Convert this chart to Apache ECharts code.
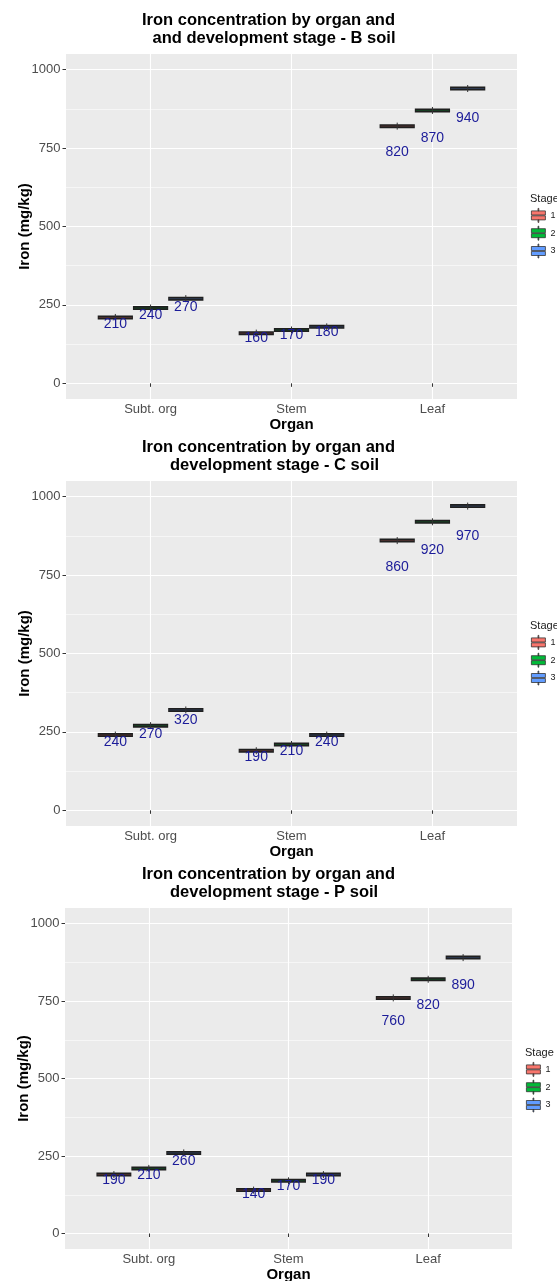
<!DOCTYPE html>
<html><head><meta charset="utf-8">
<script src="https://cdn.jsdelivr.net/npm/echarts@6/dist/echarts.min.js"></script>
<style>html,body{margin:0;padding:0;background:#fff}#chart{width:557px;height:1281px}</style>
</head><body><div id="chart"></div>
<script>
// ---- data ----
const organs = ['Subt. org', 'Stem', 'Leaf'];
const stages = ['1', '2', '3'];
const stageColors = ['#F8766D', '#00BA38', '#619CFF'];
const yTicks = [0, 250, 500, 750, 1000];
const yMinorTicks = [125, 375, 625, 875];
const xTicks = [1, 2, 3];
const titleLine1 = ['Iron concentration by organ and', 'Iron concentration by organ and', 'Iron concentration by organ and'];
const titleLine2 = ['and development stage - B soil', 'development stage - C soil', 'development stage - P soil'];
// values per stage (rows) and organ (columns: Subt. org, Stem, Leaf)
const soilB = [[210, 160, 820], [240, 170, 870], [270, 180, 940]];
const soilC = [[240, 190, 860], [270, 210, 920], [320, 240, 970]];
const soilP = [[190, 140, 760], [210, 170, 820], [260, 190, 890]];
const soils = [soilB, soilC, soilP];

// ---- layout ----
const FONT = 'Liberation Sans, Arial, Helvetica, sans-serif';
const grids = [
  {left: 66, top: 54, width: 451, height: 345},
  {left: 66, top: 481, width: 451, height: 345},
  {left: 65, top: 908, width: 447, height: 341}
];
const line2Left = [152.5, 170, 170];
const legendLeft = [531, 531, 526];
const stageTitleLeft = [530, 530, 525];
const DODGE = 0.25, HALF = 0.125, LABEL_FACTOR = 0.9;

const option = {
  animation: false,
  backgroundColor: '#fff',
  textStyle: {fontFamily: FONT},
  title: [], legend: [], grid: [], xAxis: [], yAxis: [], series: []
};

grids.forEach((g, p) => {
  option.grid.push(Object.assign({show: true, backgroundColor: '#EBEBEB', borderWidth: 0,
    containLabel: false, outerBoundsMode: 'none'}, g));
  const tStyle = {fontSize: 16.5, fontWeight: 'bold', color: '#000', fontFamily: FONT, lineHeight: 18};
  option.title.push({text: titleLine1[p], left: 142, top: g.top - 33.3 - 9, padding: 0, textStyle: tStyle});
  option.title.push({text: titleLine2[p], left: line2Left[p], top: g.top - 15.2 - 9, padding: 0, textStyle: tStyle});
  option.title.push({text: 'Stage', left: stageTitleLeft[p], top: g.top + 145 - 6, padding: 0,
    textStyle: {fontSize: 11, fontWeight: 'normal', color: '#1a1a1a', fontFamily: FONT, lineHeight: 12}});

  option.legend.push({
    data: stages, orient: 'vertical', left: legendLeft[p], top: g.top + 161 - 7, padding: 0,
    itemWidth: 14, itemHeight: 14, itemGap: 3, selectedMode: false,
    icon: 'path://M0,2.5H14V6.6H0Z M0,7.4H14V11.5H0Z M6.6,0H7.4V2.5H6.6Z M6.6,11.5H7.4V14H6.6Z',
    itemStyle: {borderColor: '#333', borderWidth: 0.8},
    textStyle: {fontSize: 9, color: '#1a1a1a', fontFamily: FONT}
  });

  option.xAxis.push({
    gridIndex: p, type: 'value', min: 0.4, max: 3.6,
    axisLine: {show: false},
    axisTick: {show: true, customValues: xTicks, length: 3.5, lineStyle: {color: '#333', width: 1}},
    axisLabel: {customValues: xTicks, formatter: v => organs[Math.round(v) - 1], margin: 4,
      fontSize: 13, color: '#4D4D4D', fontFamily: FONT},
    splitLine: {show: true, lineStyle: {color: '#fff', width: 1.1}},
    name: 'Organ', nameLocation: 'middle', nameGap: 18, nameMoveOverlap: false,
    nameTextStyle: {fontSize: 15, fontWeight: 'bold', color: '#000', lineHeight: 15, fontFamily: FONT}
  });
  option.yAxis.push({
    gridIndex: p, type: 'value', min: -50, max: 1050,
    axisLine: {show: false},
    axisTick: {show: true, customValues: yTicks, length: 3.5, lineStyle: {color: '#333', width: 1}},
    axisLabel: {customValues: yTicks, formatter: v => String(v), margin: 5.5, fontSize: 13,
      color: '#4D4D4D', fontFamily: FONT},
    splitLine: {show: true, lineStyle: {color: '#fff', width: 1.1}},
    name: 'Iron (mg/kg)', nameLocation: 'middle', nameGap: 34, nameRotate: 90, nameMoveOverlap: false,
    nameTextStyle: {fontSize: 15, fontWeight: 'bold', color: '#000', lineHeight: 15, fontFamily: FONT}
  });
  option.yAxis.push({
    gridIndex: p, type: 'value', min: -50, max: 1050, position: 'right',
    axisLine: {show: false},
    axisTick: {show: false, customValues: yMinorTicks},
    axisLabel: {show: false, customValues: yMinorTicks},
    splitLine: {show: true, lineStyle: {color: '#fff', width: 0.55}}
  });

  const values = soils[p];
  stages.forEach((st, s) => {
    const data = organs.map((o, i) => [i + 1 + (s - 1) * DODGE, values[s][i]]);
    option.series.push({
      type: 'custom', name: st, xAxisIndex: p, yAxisIndex: 2 * p,
      itemStyle: {color: stageColors[s]}, z: 3,
      data: data,
      renderItem: (params, api) => {
        const x = api.value(0), v = api.value(1);
        const a = api.coord([x - HALF, v]);
        const b = api.coord([x + HALF, v]);
        const cx = (a[0] + b[0]) / 2;
        const col = api.visual('color');
        return {type: 'group', children: [
          {type: 'rect', shape: {x: a[0], y: a[1] - 2, width: b[0] - a[0], height: 4}, style: {fill: '#1f1f1f'}},
          {type: 'line', shape: {x1: a[0] + 1, y1: a[1], x2: b[0] - 1, y2: a[1]}, style: {stroke: col, lineWidth: 1, opacity: 0.22}},
          {type: 'line', shape: {x1: cx, y1: a[1] - 3.5, x2: cx, y2: a[1] + 3.5}, style: {stroke: '#333', lineWidth: 1}}
        ]};
      }
    });
  });
  // value labels
  const labelData = [];
  stages.forEach((st, s) => organs.forEach((o, i) => labelData.push([i + 1 + (s - 1) * DODGE, values[s][i]])));
  option.series.push({
    type: 'custom', name: 'labels' + p, xAxisIndex: p, yAxisIndex: 2 * p, z: 10, silent: true,
    data: labelData,
    renderItem: (params, api) => {
      const x = api.value(0), v = api.value(1);
      const c = api.coord([x, v * LABEL_FACTOR]);
      return {type: 'text', style: {text: String(v), x: c[0], y: c[1], align: 'center', verticalAlign: 'middle',
        fill: '#1c1c99', font: '14px ' + FONT}};
    }
  });
});

const chart = echarts.init(document.getElementById('chart'), null, {renderer: 'canvas'});
chart.setOption(option);
</script>
</body></html>
